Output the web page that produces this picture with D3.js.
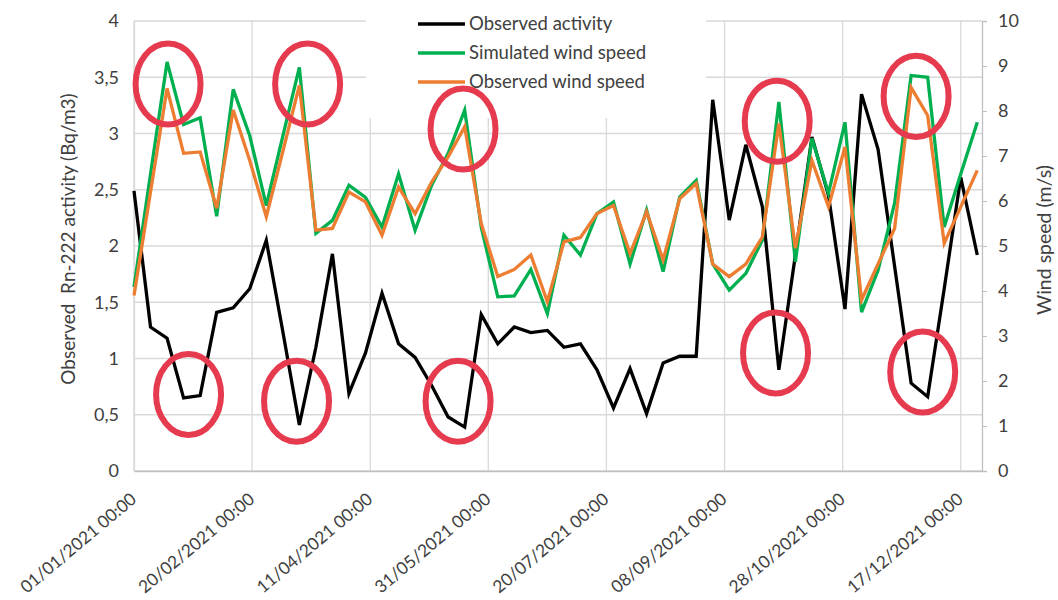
<!DOCTYPE html>
<meta charset="utf-8">
<script src="https://d3js.org/d3.v7.min.js"></script>
<style>
  body { margin: 0; background: #fff; }
  text { font-family: Lato, "Liberation Sans", sans-serif; fill: #404040; }
</style>
<div id="my_dataviz"></div>
<script>

// weekly samples, first one on 01/01/2021
var startDate = new Date(2021, 0, 1);
var weeks = d3.range(52);

// Rn-222 activity (Bq/m3), left axis
var activity = [2.49, 1.28, 1.18, 0.65, 0.67, 1.41, 1.45, 1.62, 2.05, 1.24,
                0.41, 1.10, 1.93, 0.69, 1.05, 1.58, 1.13, 1.01, 0.76, 0.48,
                0.39, 1.39, 1.13, 1.28, 1.23, 1.25, 1.10, 1.13, 0.90, 0.56,
                0.91, 0.51, 0.96, 1.02, 1.02, 3.30, 2.23, 2.90, 2.35, 0.90,
                1.92, 2.97, 2.45, 1.44, 3.35, 2.86, 1.82, 0.78, 0.66, 1.62,
                2.61, 1.92];

// wind speed (m/s), right axis
var simWind = [4.09, 6.60, 9.09, 7.70, 7.85, 5.66, 8.48, 7.45, 5.90, 7.44,
               8.97, 5.28, 5.57, 6.35, 6.08, 5.42, 6.60, 5.35, 6.35, 7.06,
               8.02, 5.42, 3.87, 3.89, 4.48, 3.50, 5.24, 4.80, 5.72, 5.98,
               4.60, 5.80, 4.43, 6.09, 6.46, 4.60, 4.02, 4.39, 5.13, 8.20,
               4.65, 7.39, 6.17, 7.75, 3.53, 4.46, 5.95, 8.79, 8.75, 5.42,
               6.60, 7.75];
var obsWind = [3.90, 6.20, 8.50, 7.06, 7.09, 5.84, 8.02, 6.90, 5.65, 7.10,
               8.57, 5.35, 5.39, 6.20, 5.98, 5.24, 6.31, 5.72, 6.42, 6.98,
               7.65, 5.50, 4.32, 4.48, 4.80, 3.76, 5.09, 5.19, 5.72, 5.90,
               4.83, 5.76, 4.69, 6.05, 6.39, 4.60, 4.32, 4.60, 5.20, 7.72,
               4.95, 6.90, 5.87, 7.20, 3.80, 4.60, 5.39, 8.52, 7.90, 5.06,
               5.87, 6.68];

var leftTicks = [0, 0.5, 1, 1.5, 2, 2.5, 3, 3.5, 4];
var rightTicks = d3.range(0, 11);
var tickDays = [0, 50, 100, 150, 200, 250, 300, 350];

var seriesNames = ["Observed activity", "Simulated wind speed", "Observed wind speed"];
var seriesColors = ["#000000", "#00b050", "#ed7d31"];

// highlighted spots: week (fractional) and activity-axis level
var markWeek  = [2.06, 3.30, 10.50, 9.83, 19.9, 19.6, 38.9, 38.8, 47.3, 47.7];
var markLevel = [3.44, 0.68, 3.44, 0.62, 3.04, 0.62, 3.11, 1.05, 3.33, 0.88];

var margin = {top: 21, right: 76, bottom: 129, left: 134},
    width = 1058 - margin.left - margin.right,
    height = 600 - margin.top - margin.bottom;

var svg = d3.select("#my_dataviz")
  .append("svg")
    .attr("width", 1058)
    .attr("height", 600)
  .append("g")
    .attr("transform", "translate(" + margin.left + "," + margin.top + ")");

var dayMs = 864e5;
function weekDate(w) { return new Date(startDate.getTime() + w * 7 * dayMs); }

var x = d3.scaleTime()
  .domain([startDate, new Date(startDate.getTime() + 359 * dayMs)])
  .range([0, width]);
var yL = d3.scaleLinear().domain([0, 4]).range([height, 0]);
var yR = d3.scaleLinear().domain([0, 10]).range([height, 0]);

var tickDates = tickDays.map(function(d) { return new Date(startDate.getTime() + d * dayMs); });
var fmt = d3.timeFormat("%d/%m/%Y %H:%M");

// gridlines
svg.append("g")
  .selectAll("line.h")
  .data(leftTicks)
  .enter().append("line")
    .attr("x1", 0).attr("x2", width)
    .attr("y1", function(d) { return yL(d); })
    .attr("y2", function(d) { return yL(d); })
    .attr("stroke", "#d9d9d9").attr("stroke-width", 1.3);
svg.append("g")
  .selectAll("line.v")
  .data(tickDates)
  .enter().append("line")
    .attr("x1", function(d) { return x(d); })
    .attr("x2", function(d) { return x(d); })
    .attr("y1", 0).attr("y2", height)
    .attr("stroke", "#d9d9d9").attr("stroke-width", 1.3);

// axes
var xAxis = svg.append("g")
  .attr("transform", "translate(0," + height + ")")
  .call(d3.axisBottom(x).tickValues(tickDates).tickFormat(fmt).tickSize(0).tickPadding(0));
xAxis.select(".domain").attr("stroke", "#bfbfbf").attr("stroke-width", 1.5);
xAxis.selectAll("text")
  .attr("font-size", 17.3)
  .attr("text-anchor", "end")
  .attr("dy", 0)
  .attr("transform", "translate(3,30) rotate(-40)");

var yAxisL = svg.append("g")
  .call(d3.axisLeft(yL).tickValues(leftTicks).tickSize(0).tickPadding(15)
    .tickFormat(function(d) { return String(d).replace(".", ","); }));
yAxisL.select(".domain").attr("stroke", "#d9d9d9").attr("stroke-width", 1.3);
yAxisL.selectAll("text").attr("font-size", 18);

var yAxisR = svg.append("g")
  .attr("transform", "translate(" + width + ",0)")
  .call(d3.axisRight(yR).tickValues(rightTicks).tickSize(5).tickPadding(11));
yAxisR.select(".domain").attr("stroke", "#bfbfbf").attr("stroke-width", 1.3);
yAxisR.selectAll("line").attr("stroke", "#bfbfbf");
yAxisR.selectAll("text").attr("font-size", 18);

// axis titles
svg.append("text")
  .attr("transform", "translate(" + (-66) + "," + (height / 2 - 7) + ") rotate(-90)")
  .attr("text-anchor", "middle")
  .attr("dy", "0.35em")
  .attr("font-size", 19)
  .text("Observed\u00a0 Rn-222 activity (Bq/m3)");
svg.append("text")
  .attr("transform", "translate(" + (width + 62) + "," + (height / 2 - 6) + ") rotate(-90)")
  .attr("text-anchor", "middle")
  .attr("dy", "0.35em")
  .attr("font-size", 19.5)
  .text("Wind speed (m/s)");

// legend box (white, hides grid behind)
svg.append("rect")
  .attr("x", 232).attr("y", -21)
  .attr("width", 340).attr("height", 118)
  .attr("fill", "#fff");

// lines
var lines = [
  {name: seriesNames[0], values: activity, y: yL, color: seriesColors[0]},
  {name: seriesNames[1], values: simWind, y: yR, color: seriesColors[1]},
  {name: seriesNames[2], values: obsWind, y: yR, color: seriesColors[2]}
];
lines.forEach(function(s) {
  var line = d3.line()
    .x(function(w) { return x(weekDate(w)); })
    .y(function(w) { return s.y(s.values[w]); });
  svg.append("path")
    .datum(weeks)
    .attr("fill", "none")
    .attr("stroke", s.color)
    .attr("stroke-width", 3.3)
    .attr("stroke-linejoin", "miter")
    .attr("d", line);
});

// legend entries
var legend = svg.append("g").attr("transform", "translate(284,3)");
lines.forEach(function(s, i) {
  legend.append("line")
    .attr("x1", 0).attr("x2", 47)
    .attr("y1", i * 29).attr("y2", i * 29)
    .attr("stroke", s.color).attr("stroke-width", 3.3);
  legend.append("text")
    .attr("x", 51).attr("y", i * 29)
    .attr("dy", "0.35em")
    .attr("font-size", 18.5)
    .text(s.name);
});

// red ellipses
svg.append("g")
  .selectAll("ellipse")
  .data(markWeek)
  .enter().append("ellipse")
    .attr("cx", function(d) { return x(weekDate(d)); })
    .attr("cy", function(d, i) { return yL(markLevel[i]); })
    .attr("rx", 32.5)
    .attr("ry", 40.5)
    .attr("fill", "none")
    .attr("stroke", "#e63a4f")
    .attr("stroke-width", 6);

</script>
